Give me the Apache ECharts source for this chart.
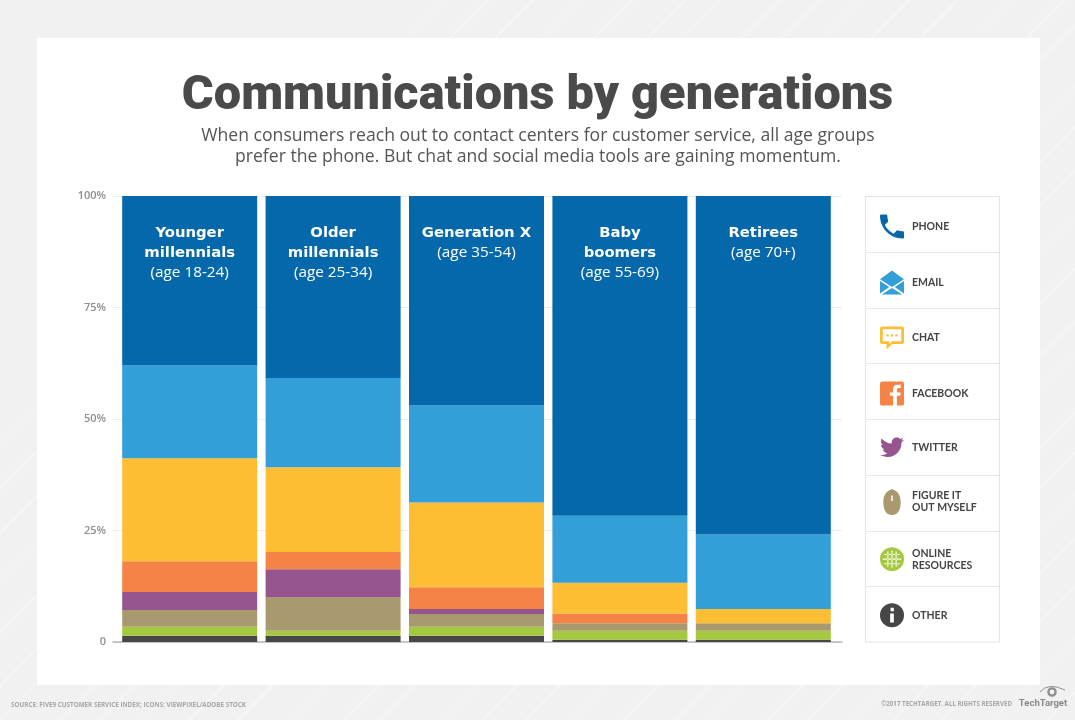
<!DOCTYPE html>
<html><head><meta charset="utf-8">
<style>html,body{margin:0;padding:0;background:#f1f1f1}#c{width:1075px;height:720px}</style>
<script src="https://cdn.jsdelivr.net/npm/echarts@6/dist/echarts.min.js"></script></head>
<body><div id="c"></div>
<script>
const categories = ['Younger\nmillennials','Older\nmillennials','Generation X','Baby\nboomers','Retirees'];
const ages = ['(age 18-24)','(age 25-34)','(age 35-54)','(age 55-69)','(age 70+)'];
const other   = [1.4, 1.4, 1.4, 0.5, 0.5];
const online  = [2.0, 1.1, 2.0, 2.0, 2.0];
const figure  = [3.8, 7.6, 2.9, 1.7, 1.7];
const twitter = [4.0, 6.2, 1.1, 0, 0];
const facebook= [6.9, 3.9, 4.9, 2.2, 0];
const chat    = [23.1, 19.0, 19.0, 6.9, 3.2];
const email   = [20.8, 20.0, 21.7, 15.0, 16.7];
const phone   = [38.0, 40.8, 47.0, 71.7, 75.9];
const yTicks  = {0:'0',25:'25%',50:'50%',75:'75%',100:'100%'};

const P = {
 phone:'path://M6.6 10.8c1.4 2.8 3.8 5.1 6.6 6.6l2.2-2.2c.3-.3.7-.4 1-.2 1.1.4 2.3.6 3.6.6.6 0 1 .4 1 1V20c0 .6-.4 1-1 1C10.6 21 3 13.4 3 4c0-.6.4-1 1-1h3.5c.6 0 1 .4 1 1 0 1.3.2 2.5.6 3.6.1.3 0 .7-.2 1z',
 email:'path://M12 1L23 9L12 16L1 9Z M1 10.5L9.5 16L1 22Z M23 10.5L23 22L14.5 16Z M2.5 23L12 17L21.5 23Z',
 chat:'path://M3 2H21Q23 2 23 4V16Q23 18 21 18H12L7 23V18H3Q1 18 1 16V4Q1 2 3 2Z M3.5 4.5V15.5H9.5V18L12 15.5H20.5V4.5Z M7 9h2v2h-2z M11 9h2v2h-2z M15 9h2v2h-2z',
 facebook:'path://M3 1H21Q23 1 23 3V21Q23 23 21 23H3Q1 23 1 21V3Q1 1 3 1Z M13 23H16.5V14H19.5L20 11H16.5V8.5Q16.5 7 18 7H20V4H17Q13 4 13 8V11H10V14H13Z',
 twitter:'path://M23 5c-.8.4-1.7.6-2.6.7.9-.6 1.6-1.4 2-2.5-.9.5-1.9.9-2.9 1.1C18.7 3.4 17.5 3 16.2 3c-2.5 0-4.5 2-4.5 4.5 0 .4 0 .7.1 1C8 8.3 4.7 6.5 2.5 3.8c-.4.7-.6 1.4-.6 2.3 0 1.6.8 3 2 3.8-.7 0-1.4-.2-2-.6v.1c0 2.2 1.6 4 3.6 4.4-.4.1-.8.2-1.2.2-.3 0-.6 0-.8-.1.6 1.8 2.2 3.1 4.2 3.1-1.5 1.2-3.5 1.9-5.6 1.9-.4 0-.7 0-1.1-.1 2 1.3 4.4 2 6.9 2 8.3 0 12.8-6.9 12.8-12.8v-.6c.9-.6 1.6-1.4 2.3-2.4z',
 figure:'path://M12 0C17.5 2 20 6 20 12C20 20 17 24 12 24C7 24 4 20 4 12C4 6 6.5 2 12 0Z M11.3 6V11H12.7V6Z',
 online:'path://M12 1A11 11 0 1 1 11.99 1Z M5 7.3V8.3H19V7.3Z M3.5 11.5V12.5H20.5V11.5Z M5 15.7V16.7H19V15.7Z M11.5 4V20H12.5V4Z M7.7 5V19H8.7V5Z M15.3 5V19H16.3V5Z',
 other:'path://M12 1A11 11 0 1 1 11.99 1Z M10.7 5.3V8.3H13.7V5.3Z M10.3 10.5V18.7H13.7V10.5Z'
};
const names = ['PHONE','EMAIL','CHAT','FACEBOOK','TWITTER','FIGURE IT\nOUT MYSELF','ONLINE\nRESOURCES','OTHER'];

function bar(name,data,color){
 return {name,type:'bar',stack:'s',xAxisIndex:1,yAxisIndex:1,barWidth:135,data,
  itemStyle:{color},emphasis:{disabled:true}};
}
const seriesList = [
 bar('OTHER',other,'#464646'),
 bar('ONLINE\nRESOURCES',online,'#a4c93f'),
 bar('FIGURE IT\nOUT MYSELF',figure,'#a89a6e'),
 bar('TWITTER',twitter,'#96558f'),
 bar('FACEBOOK',facebook,'#f58345'),
 bar('CHAT',chat,'#fdbe33'),
 bar('EMAIL',email,'#339fd9'),
 bar('PHONE',phone,'#0568aa')
];
const iconOf = [P.phone,P.email,P.chat,P.facebook,P.twitter,P.figure,P.online,P.other];

const deco = [{type:'rect',z:-30,shape:{x:0,y:0,width:1075,height:720},style:{fill:'#f1f1f1'}}];
for(let i=-6;i<30;i++){
 const x=i*47+((i*i*13)%23);
 deco.push({type:'line',z:-29,shape:{x1:x,y1:720,x2:x+720,y2:0},style:{stroke:'rgba(255,255,255,0.32)',lineWidth:1+(i*i*7)%3}});
}
deco.push({type:'rect',z:-28,shape:{x:37,y:38,width:1003,height:647},style:{fill:'#ffffff'}});
deco.push({type:'rect',z:-20,shape:{x:865.5,y:196.5,width:134,height:445.5},style:{fill:'#fff',stroke:'#e4e4e4',lineWidth:1}});
[252,308,363,419,475,531,586].forEach(y=>deco.push({type:'line',z:-19,shape:{x1:865,y1:y+.5,x2:1000,y2:y+.5},style:{stroke:'#e8e8e8',lineWidth:1}}));
deco.push({type:'text',x:11,y:702.5,style:{text:'SOURCE: FIVE9 CUSTOMER SERVICE INDEX; ICONS: VIEWPIXEL/ADOBE STOCK',fill:'#a6a6a6',font:'bold 6.3px "Open Sans"'}});
deco.push({type:'text',x:1012,y:701,style:{text:'©2017 TECHTARGET. ALL RIGHTS RESERVED',fill:'#a6a6a6',font:'bold 6.2px "Open Sans"',align:'right'}});
deco.push({type:'text',x:1043,y:699,style:{text:'TechTarget',fill:'#8a8a8a',font:'bold 9.5px "Roboto"',align:'center'}});
deco.push({type:'ring',shape:{cx:1052,cy:692,r:4.8,r0:2.4},style:{fill:'#8f8f8f'}});
deco.push({type:'bezierCurve',shape:{x1:1040,y1:692,cpx1:1048,cpy1:682,x2:1065,y2:690},style:{stroke:'#8f8f8f',fill:'none',lineWidth:1}});

const chart = echarts.init(document.getElementById('c'),null,{renderer:'canvas'});
chart.setOption({
 animation:false,
 backgroundColor:'transparent',
 title:[
  {text:'Communications by generations',left:532.5,top:67,textAlign:'center',
   textStyle:{fontFamily:'Roboto',fontWeight:900,fontSize:48.7,color:'#4a4a4a'}},
  {text:'When consumers reach out to contact centers for customer service, all age groups\nprefer the phone. But chat and social media tools are gaining momentum.',
   left:533,top:120,textAlign:'center',
   textStyle:{fontFamily:'Open Sans',fontWeight:400,fontSize:17.6,lineHeight:21.5,color:'#555555'}}
 ],
 graphic:{elements:deco},
 legend:{
  orient:'vertical',left:875,top:209.5,itemWidth:24,itemHeight:26,itemGap:32.05,selectedMode:false,
  data:names.map((n,i)=>({name:n,icon:iconOf[i]})),
  textStyle:{fontFamily:'Lato',fontWeight:700,fontSize:10.5,lineHeight:12,color:'#444444',padding:[0,0,0,3]}
 },
 grid:[
  {left:113,width:729,top:196,height:446},
  {left:118,width:717,top:196,height:446}
 ],
 xAxis:[
  {gridIndex:0,type:'value',min:0,max:1,axisLabel:{show:false},axisTick:{show:false},splitLine:{show:false},
   axisLine:{show:true,onZero:false,lineStyle:{color:'#b5b5b5',width:1.5}}},
  {gridIndex:1,type:'category',position:'top',data:categories,axisLine:{show:false},axisTick:{show:false},
   axisLabel:{show:true,inside:true,interval:0,margin:27,verticalAlign:'top',
    formatter:(v,i)=>v.split('\n').map(s=>'{h|'+s+'}').join('\n')+'\n{s|'+ages[i]+'}',
    rich:{h:{fontFamily:'DejaVu Sans',fontWeight:700,fontSize:14.8,lineHeight:20,color:'#ffffff',align:'center'},
          s:{fontFamily:'Open Sans',fontWeight:400,fontSize:15.3,lineHeight:20,color:'#ffffff',align:'center'}}},
   z:10}
 ],
 yAxis:[
  {gridIndex:0,type:'value',min:0,max:100,interval:25,axisLine:{show:false},axisTick:{show:false},
   axisLabel:{margin:7,fontFamily:'Open Sans',fontWeight:600,fontSize:11,color:'#8e8e8e',formatter:v=>yTicks[v]},
   splitLine:{show:true,lineStyle:{color:'#ececec',width:1}}},
  {gridIndex:1,type:'value',min:0,max:100,interval:25,show:false}
 ],
 series:seriesList
});
</script></body></html>
